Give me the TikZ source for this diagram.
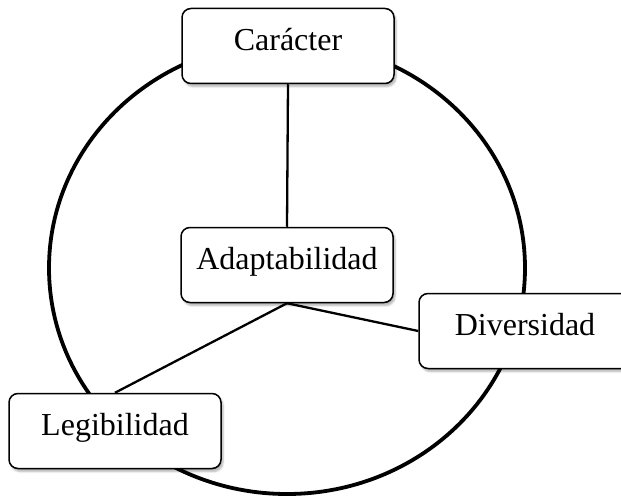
\documentclass[tikz,border=0pt]{standalone}
\usepackage{fontspec}
\setmainfont{Liberation Serif}
\usepackage{tikz}
\usetikzlibrary{shadows.blur}

\begin{document}
\begin{tikzpicture}[
    x=1pt, y=-1pt,
    % cajas blancas con esquinas redondeadas y sombra suave
    caja/.style={
        draw=black, fill=white, line width=1.5pt, rounded corners=9pt,
        minimum width=212pt, inner sep=0pt,
        text height=42pt, text depth=33pt,
        font=\fontsize{32}{38}\selectfont,
        blur shadow={shadow xshift=2pt, shadow yshift=-3pt,
                     shadow blur steps=6, shadow opacity=30}
    },
    % conectores entre cajas
    enlace/.style={line width=2.3pt, color=black},
    % anillo exterior
    anillo/.style={line width=3.8pt, color=black}
]
    \useasboundingbox (0,0) rectangle (621,500);

    % --- ANILLO ---
    \draw[anillo] (287,268) ellipse [x radius=238, y radius=226];

    % --- CAJAS ---
    \node[caja] (car) at (288,46) {Carácter};
    \node[caja] (ada) at (287,265) {Adaptabilidad};
    \node[caja] (div) at (525,331) {Diversidad};
    \node[caja] (leg) at (115,431) {Legibilidad};

    % --- ENLACES ---
    \draw[enlace] (car.south) -- (ada.north);
    \draw[enlace] (ada.south) -- (div.west);
    \draw[enlace] (ada.south) -- (leg.north);

\end{tikzpicture}
\end{document}
